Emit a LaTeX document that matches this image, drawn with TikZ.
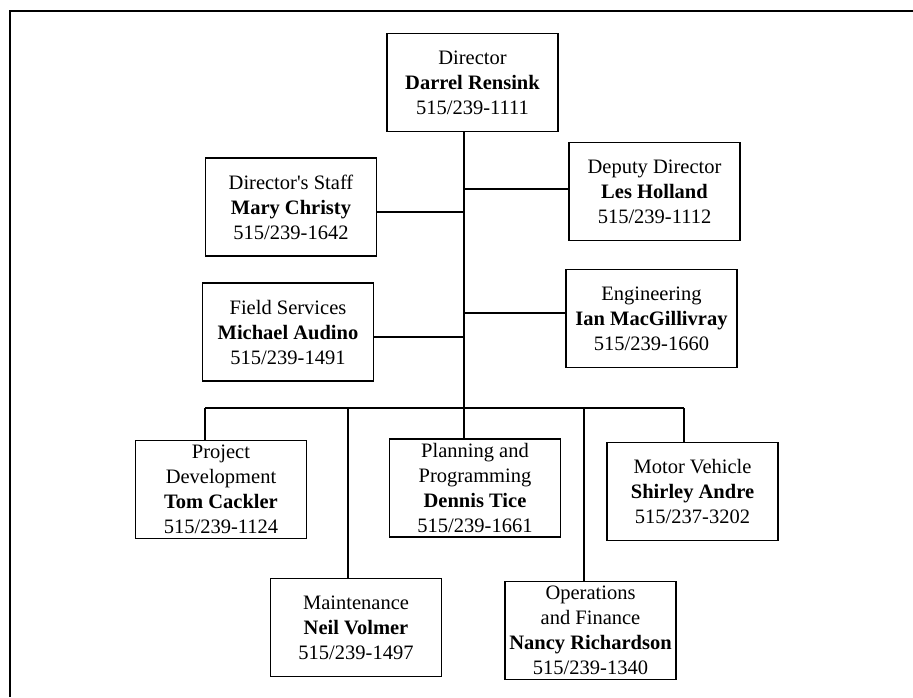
\documentclass[tikz,border=0pt]{standalone}
\usepackage{fontspec}
\setmainfont{Liberation Serif}
\begin{document}
\begin{tikzpicture}[x=1pt, y=-1pt,
    unit/.style={draw, line width=1.6pt, minimum width=171pt, minimum height=98pt,
        inner sep=0pt, align=center, font=\fontsize{20.5}{25}\selectfont},
    link/.style={line width=1.3pt}]
\useasboundingbox (0,0) rectangle (913,697);
\draw [line width=2.5pt] (10,697)--(10,11)--(913,11);
\node[unit] (dir) at (472.5,82.5) {Director\\\textbf{Darrel Rensink}\\515/239-1111};
\node[unit] (dep) at (654.5,191.5) {Deputy Director\\\textbf{Les Holland}\\515/239-1112};
\node[unit] (staff) at (291,207) {Director\textquotesingle s Staff\\\textbf{Mary Christy}\\515/239-1642};
\node[unit] (field) at (288,332) {Field Services\\\textbf{Michael Audino}\\515/239-1491};
\node[unit] (eng) at (651.5,318.5) {Engineering\\\textbf{Ian MacGillivray}\\515/239-1660};
\node[unit] (pd) at (221,489.5) {Project\\Development\\\textbf{Tom Cackler}\\515/239-1124};
\node[unit] (plan) at (475,488) {Planning and\\Programming\\\textbf{Dennis Tice}\\515/239-1661};
\node[unit] (mv) at (692.5,491.5) {Motor Vehicle\\\textbf{Shirley Andre}\\515/237-3202};
\node[unit] (mnt) at (356,627.5) {Maintenance\\\textbf{Neil Volmer}\\515/239-1497};
\node[unit] (ops) at (590.5,630.5) {Operations\\and Finance\\\textbf{Nancy Richardson}\\515/239-1340};
\coordinate (bus) at (464,408);
\coordinate (b1) at (205,408);
\coordinate (b2) at (348,408);
\coordinate (b4) at (584,408);
\coordinate (b5) at (684,408);
\draw [link] (dir.south -| bus)--(bus);
\draw [link] (b1)--(b5);
\draw [link] (dep.west |- 0,189)--(464,189);
\draw [link] (staff.east |- 0,212)--(464,212);
\draw [link] (eng.west |- 0,313)--(464,313);
\draw [link] (field.east |- 0,337)--(464,337);
\draw [link] (b1)--(b1 |- pd.north);
\draw [link] (b2)--(b2 |- mnt.north);
\draw [link] (bus)--(bus |- plan.north);
\draw [link] (b4)--(b4 |- ops.north);
\draw [link] (b5)--(b5 |- mv.north);
\end{tikzpicture}
\end{document}
